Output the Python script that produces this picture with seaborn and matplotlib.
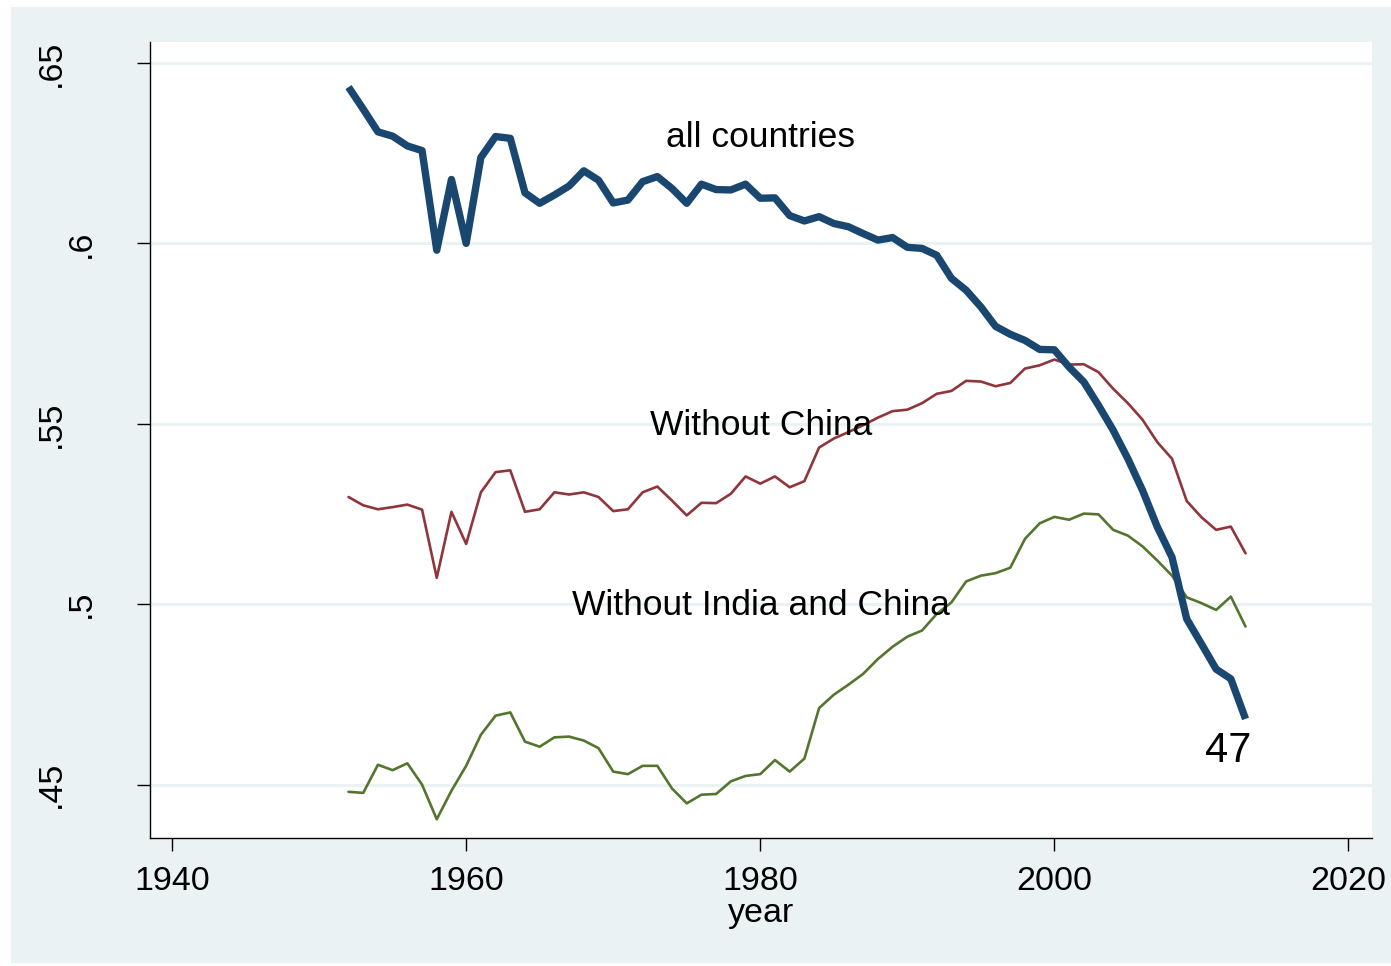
import numpy as np
import pandas as pd
import matplotlib
matplotlib.use("Agg")
import matplotlib.pyplot as plt
import matplotlib.transforms as mtransforms
from matplotlib.patches import Rectangle
import seaborn as sns

years = list(range(1952, 2014))

all_countries = [
    0.6433, 0.6372, 0.6309, 0.6297, 0.6270, 0.6257, 0.5981, 0.6177, 0.6000, 0.6238,
    0.6296, 0.6291, 0.6140, 0.6111, 0.6134, 0.6159, 0.6201, 0.6175, 0.6112, 0.6120,
    0.6171, 0.6185, 0.6152, 0.6111, 0.6164, 0.6149, 0.6148, 0.6164, 0.6125, 0.6126,
    0.6077, 0.6062, 0.6074, 0.6055, 0.6046, 0.6027, 0.6009, 0.6016, 0.5989, 0.5986,
    0.5967, 0.5903, 0.5870, 0.5824, 0.5770, 0.5748, 0.5731, 0.5706, 0.5705, 0.5657,
    0.5616, 0.5551, 0.5482, 0.5403, 0.5315, 0.5214, 0.5130, 0.4959, 0.4890, 0.4820,
    0.4793, 0.4682,
]

without_china = [
    0.5297, 0.5274, 0.5263, 0.5269, 0.5276, 0.5262, 0.5073, 0.5256, 0.5167, 0.5310,
    0.5366, 0.5371, 0.5256, 0.5263, 0.5310, 0.5304, 0.5310, 0.5297, 0.5258, 0.5263,
    0.5310, 0.5326, 0.5287, 0.5246, 0.5281, 0.5280, 0.5306, 0.5354, 0.5334, 0.5354,
    0.5324, 0.5341, 0.5434, 0.5459, 0.5477, 0.5496, 0.5517, 0.5535, 0.5539, 0.5557,
    0.5583, 0.5591, 0.5619, 0.5617, 0.5604, 0.5613, 0.5653, 0.5662, 0.5678, 0.5664,
    0.5665, 0.5643, 0.5597, 0.5557, 0.5511, 0.5449, 0.5403, 0.5286, 0.5241, 0.5206,
    0.5215, 0.5141,
]

without_india_china = [
    0.4480, 0.4477, 0.4555, 0.4540, 0.4559, 0.4500, 0.4404, 0.4483, 0.4552, 0.4638,
    0.4691, 0.4700, 0.4619, 0.4605, 0.4631, 0.4633, 0.4622, 0.4601, 0.4536, 0.4529,
    0.4552, 0.4552, 0.4489, 0.4448, 0.4472, 0.4474, 0.4509, 0.4524, 0.4529, 0.4568,
    0.4536, 0.4572, 0.4712, 0.4749, 0.4777, 0.4807, 0.4848, 0.4882, 0.4910, 0.4927,
    0.4973, 0.5005, 0.5063, 0.5079, 0.5086, 0.5101, 0.5181, 0.5224, 0.5242, 0.5234,
    0.5251, 0.5249, 0.5206, 0.5190, 0.5160, 0.5121, 0.5079, 0.5019, 0.5003, 0.4984,
    0.5021, 0.4938,
]

x_ticks = [1940, 1960, 1980, 2000, 2020]
y_ticks = [0.45, 0.50, 0.55, 0.60, 0.65]
y_tick_labels = [".45", ".5", ".55", ".6", ".65"]

label_all = "all countries"
label_wo_china = "Without China"
label_wo_india_china = "Without India and China"
end_label = "47"

df = pd.DataFrame({
    "year": years,
    "all": all_countries,
    "wo_china": without_china,
    "wo_india_china": without_india_china,
})

sns.set_theme(style="white")
plt.rcParams["font.family"] = ["Liberation Sans", "DejaVu Sans"]

W, H = 1391, 966
bg = "#EAF2F3"
fig = plt.figure(figsize=(W / 100, H / 100), dpi=100, facecolor="white")
rect = Rectangle((11 / W, 3 / H), 1 - 11 / W, 1 - 7 / H - 3 / H,
                 transform=fig.transFigure, facecolor=bg, edgecolor="none", zorder=-10)
fig.patches.append(rect)

ax = fig.add_axes([150 / W, 1 - 838 / H, (1372 - 150) / W, (838 - 42) / H])
ax.set_facecolor("white")
ax.set_zorder(1)

blue = "#1a476f"
red = "#90353b"
green = "#55752f"

sns.lineplot(data=df, x="year", y="wo_china", ax=ax, color=red, linewidth=1.9, zorder=3)
sns.lineplot(data=df, x="year", y="wo_india_china", ax=ax, color=green, linewidth=1.9, zorder=3)
sns.lineplot(data=df, x="year", y="all", ax=ax, color=blue, linewidth=5.3, zorder=4,
             solid_capstyle="butt")

ax.set_xlim(1938.5, 2021.6)
ax.set_ylim(0.4352, 0.6558)

ax.set_xticks(x_ticks)
ax.set_xticklabels([str(t) for t in x_ticks])
ax.set_yticks(y_ticks)
ax.set_yticklabels(y_tick_labels, rotation=90, va="center")

for y in y_ticks:
    ax.axhline(y, color=bg, linewidth=2.2, zorder=1)

for s in ["top", "right"]:
    ax.spines[s].set_visible(False)
for s in ["left", "bottom"]:
    ax.spines[s].set_color("black")
    ax.spines[s].set_linewidth(1.0)

ax.tick_params(axis="both", which="major", direction="out", length=9.5, width=1.0,
               color="black", labelsize=24.5, labelcolor="black", left=True, bottom=True)
ax.tick_params(axis="x", pad=10.5)
ax.tick_params(axis="y", pad=29)

ax.set_xlabel("year", fontsize=24.5, color="black", labelpad=1)
ax.set_ylabel("")

fig.canvas.draw()
for lab in ax.get_yticklabels():
    if len(lab.get_text()) == 3:
        off = mtransforms.ScaledTranslation(-0.30, 0, fig.dpi_scale_trans)
        lab.set_transform(lab.get_transform() + off)

ax.text(1980.05, 0.6292, label_all, fontsize=25.5, ha="center", va="center", color="black", zorder=5)
ax.text(1980.05, 0.5496, label_wo_china, fontsize=25.5, ha="center", va="center", color="black", zorder=5)
ax.text(1980.05, 0.4996, label_wo_india_china, fontsize=25.5, ha="center", va="center", color="black", zorder=5)
ax.text(2011.8, 0.4594, end_label, fontsize=30, ha="center", va="center", color="black", zorder=5)

fig.savefig("out.png", dpi=100, facecolor="white")
